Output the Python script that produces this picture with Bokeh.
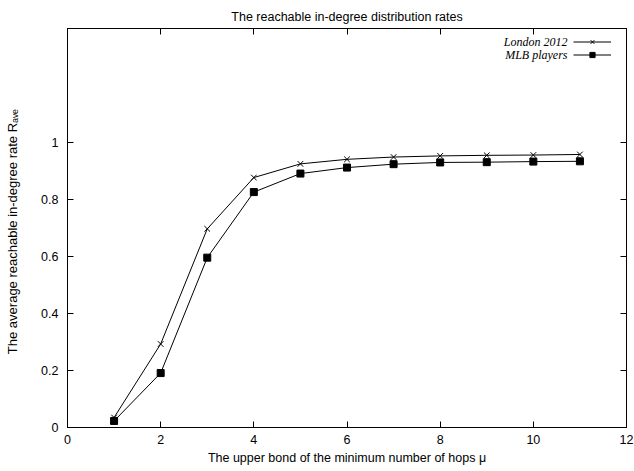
from bokeh.plotting import figure
from bokeh.models import (Range1d, FixedTicker, LinearAxis, Label, Legend, LegendItem, Title)
from bokeh.embed import file_html
from bokeh.resources import INLINE

# ---- data ----
hops = [1, 2, 3, 4, 5, 6, 7, 8, 9, 10, 11]
london_2012 = [0.035, 0.293, 0.697, 0.877, 0.925, 0.941, 0.949, 0.953, 0.955, 0.956, 0.958]
mlb_players = [0.023, 0.191, 0.596, 0.826, 0.891, 0.912, 0.924, 0.930, 0.931, 0.933, 0.934]
series_names = ["London 2012", "MLB players"]
x_ticks = [0, 2, 4, 6, 8, 10, 12]
y_ticks = [0, 0.2, 0.4, 0.6, 0.8, 1.0]
title_text = "The reachable in-degree distribution rates"
x_label = "The upper bond of the minimum number of hops \u03bc"
y_label = "The average reachable in-degree rate R\u2090\u1d65\u2091\u00a0\u00a0"

FONT = "Liberation Sans"
FS = "12.5px"

p = figure(width=634, height=471, output_backend="svg", toolbar_location=None,
           x_range=Range1d(0, 12), y_range=Range1d(0, 1.4),
           min_border_left=67, min_border_right=8, min_border_top=28, min_border_bottom=44,
           x_axis_location=None, y_axis_location=None)
p.grid.visible = False
p.outline_line_color = "black"
p.outline_line_width = 1
p.background_fill_color = "white"
p.border_fill_color = "white"


def mk_axis(ticks, show_labels):
    ax = LinearAxis(ticker=FixedTicker(ticks=ticks))
    ax.major_tick_in = 6
    ax.major_tick_out = 0
    ax.minor_tick_line_color = None
    ax.axis_line_color = "black"
    ax.major_tick_line_color = "black"
    ax.major_label_text_font = FONT
    if show_labels:
        ax.major_label_text_font_size = FS
        ax.major_label_text_color = "black"
    else:
        ax.major_label_text_font_size = "1px"
        ax.major_label_text_color = None
        ax.major_label_standoff = 0
    return ax


xb = mk_axis(x_ticks, True)
xb.major_label_standoff = 7
xb.axis_label = x_label
xb.axis_label_text_font = FONT
xb.axis_label_text_font_size = FS
xb.axis_label_text_font_style = "normal"
xb.axis_label_text_color = "black"
xb.axis_label_standoff = 4
p.add_layout(xb, "below")

yl = mk_axis(y_ticks, True)
yl.major_label_standoff = 9
yl.axis_label = y_label
yl.axis_label_text_font = FONT
yl.axis_label_text_font_size = "13px"
yl.axis_label_text_font_style = "normal"
yl.axis_label_text_color = "black"
yl.axis_label_standoff = 18
p.add_layout(yl, "left")

p.add_layout(mk_axis(x_ticks, False), "above")
p.add_layout(mk_axis(y_ticks, False), "right")

t = Title(text=title_text, align="center", text_font=FONT, text_font_size=FS,
          text_font_style="normal", text_color="black", standoff=10)
p.add_layout(t, "above")

# series
l1 = p.line(hops, london_2012, line_color="black", line_width=1)
s1 = p.scatter(hops, london_2012, marker="x", size=8, line_color="black", line_width=1)
l2 = p.line(hops, mlb_players, line_color="black", line_width=1)
s2 = p.scatter(hops, mlb_players, marker="square", size=7, line_color="black", fill_color="black")

# legend samples (text drawn separately, to the left of the samples)
leg = Legend(items=[LegendItem(label="", renderers=[l1, s1]),
                    LegendItem(label="", renderers=[l2, s2])],
             location=(506, 366), glyph_width=38, glyph_height=13,
             label_width=0, label_height=13, label_standoff=0, label_text_font_size="1px",
             label_text_color=None,
             padding=0, spacing=0, margin=0, border_line_color=None, background_fill_alpha=0)
p.add_layout(leg)

for i, name in enumerate(series_names):
    p.add_layout(Label(x=500, y=386 - 13 * i, x_units="screen", y_units="screen", text=name,
                       text_align="right", text_baseline="middle",
                       text_font="Liberation Serif", text_font_style="italic",
                       text_font_size="12px", text_color="black"))

open("out.html", "w").write(file_html(p, INLINE))
